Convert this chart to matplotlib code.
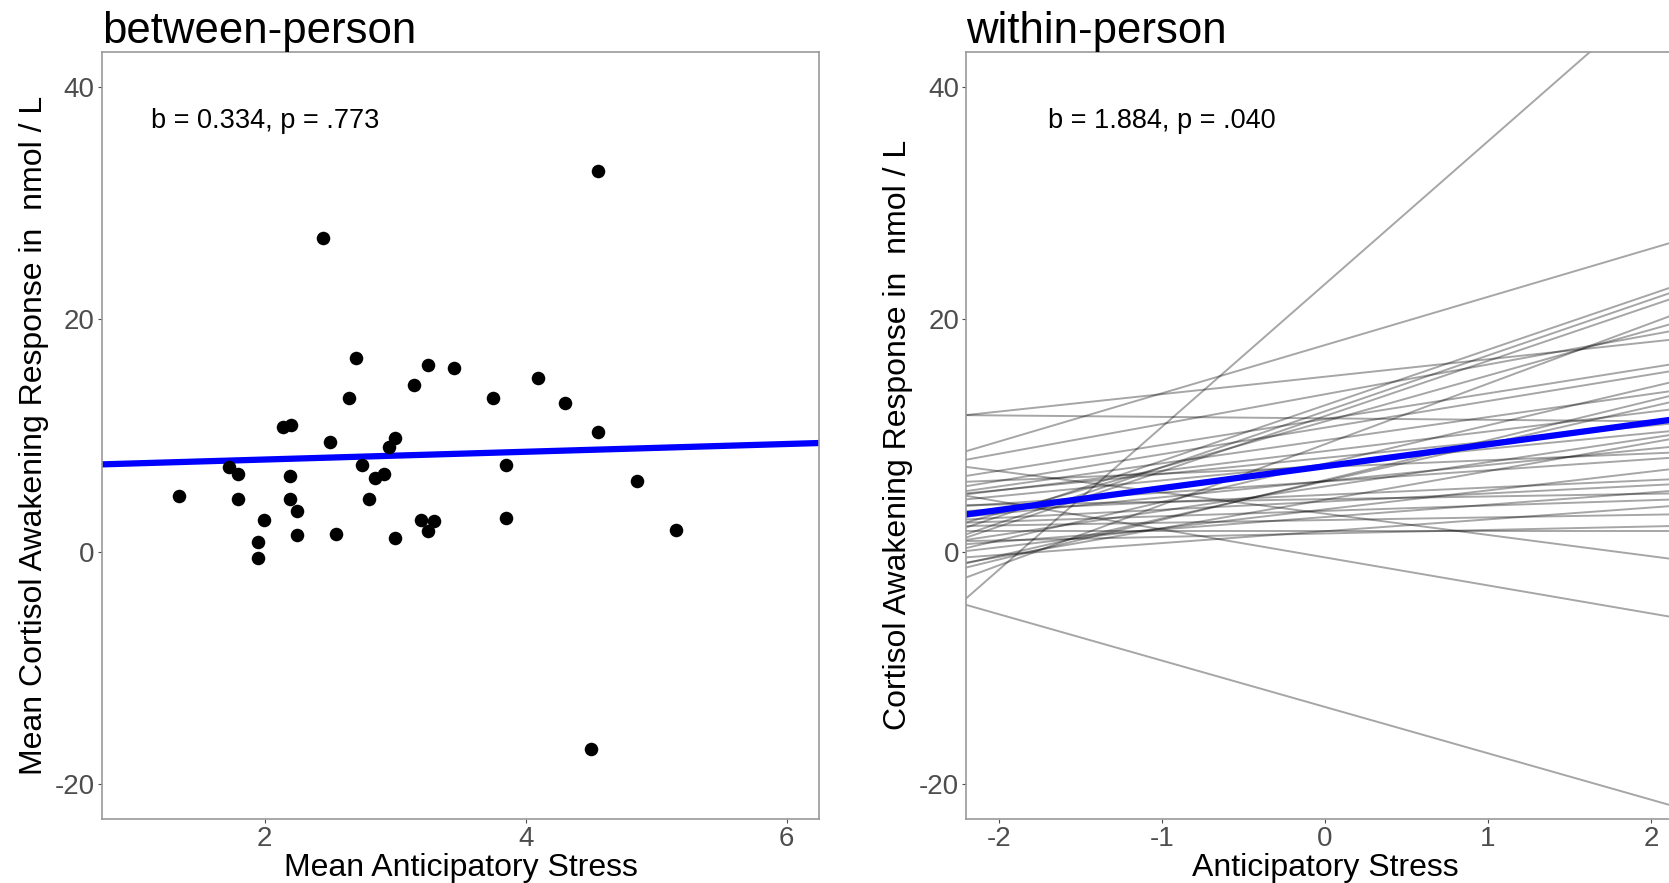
import matplotlib.pyplot as plt
import numpy as np

plt.rcParams['font.family'] = ['Liberation Sans', 'DejaVu Sans']
plt.rcParams['axes.unicode_minus'] = False

# between-person: person means
mean_stress = [1.343, 1.729, 1.795, 1.795, 1.946, 1.946, 1.997, 2.143, 2.194, 2.194,
               2.199, 2.248, 2.248, 2.449, 2.498, 2.546, 2.646, 2.697, 2.748, 2.796,
               2.845, 2.914, 2.950, 2.998, 3.001, 3.147, 3.198, 3.249, 3.249, 3.300,
               3.451, 3.749, 3.852, 3.852, 4.092, 4.301, 4.503, 4.552, 4.552, 4.853,
               5.154]
mean_car = [4.80, 7.25, 6.63, 4.51, 0.82, -0.55, 2.74, 10.71, 6.54, 4.48,
            10.85, 3.45, 1.43, 27.0, 9.40, 1.51, 13.17, 16.66, 7.43, 4.51,
            6.31, 6.69, 9.03, 1.17, 9.74, 14.31, 2.74, 16.06, 1.74, 2.66,
            15.83, 13.25, 7.48, 2.85, 14.97, 12.77, -17.0, 32.77, 10.29, 6.03,
            1.89]
between_b0, between_b1 = 7.25, 0.334

# within-person: person-specific lines (intercept at 0, slope)
person_icpt = [17.76, 15.04, 11.46, -13.36, -0.50, 3.26, 23.0, 12.58, 12.06, 11.65,
               9.23, 13.53, 11.39, 10.66, 9.58, 6.15, 8.64, 7.48, 4.46, 6.03,
               3.63, 4.88, 4.30, 2.97, 3.50, 1.75, 2.71, 1.56, 1.80,
               8.06, 6.06, 6.05, 5.60, 7.28, 4.51, 7.56, 11.19]
person_slope = [4.15, 1.50, -0.125, -3.99, -2.41, -1.83, 12.29, 4.78, 4.81, 4.75,
                5.21, 2.56, 2.22, 2.29, 1.99, 3.42, 1.69, 1.36, 2.46, 0.96,
                1.63, 0.63, 0.70, 1.06, 0.46, 1.02, 0.23, 0.30, 0.0,
                1.39, 1.39, 3.21, 2.09, 0.58, 0.23, 3.30, 3.95]
within_b0, within_b1 = 7.34, 1.884

fig = plt.figure(figsize=(16.69, 8.83), dpi=100)
ax1 = fig.add_axes([0.0609, 0.0725, 0.4300, 0.869])
ax2 = fig.add_axes([0.5788, 0.0725, 0.4300, 0.869])

tick_col = '#4D4D4D'
frame_col = '#9A9A9A'


def style(ax):
    for sp in ax.spines.values():
        sp.set_color(frame_col)
        sp.set_linewidth(1.2)
    ax.tick_params(colors=tick_col, labelsize=20, length=3, width=0.8, pad=2)
    ax.set_ylim(-23, 43)
    ax.set_yticks([-20, 0, 20, 40])


# left panel
ax1.scatter(mean_stress, mean_car, s=95, color='black', zorder=3, linewidths=0)
ax1.axline((0, between_b0), slope=between_b1, color='#0000FF', lw=4.5, zorder=2)
ax1.set_xlim(0.75, 6.25)
ax1.set_xticks([2, 4, 6])
style(ax1)
ax1.set_xlabel('Mean Anticipatory Stress', fontsize=23, labelpad=1)
ax1.set_ylabel('Mean Cortisol Awakening Response in  nmol / L', fontsize=23, labelpad=4)
ax1.set_title('between-person', loc='left', fontsize=31.5, pad=2)
ax1.text(2, 37, 'b = 0.334, p = .773', fontsize=19.5, ha='center', va='center')

# right panel
for b0, b1 in zip(person_icpt, person_slope):
    ax2.axline((0, b0), slope=b1, color='black', alpha=0.35, lw=1.4, zorder=1)
ax2.axline((0, within_b0), slope=within_b1, color='#0000FF', lw=4.5, zorder=2)
ax2.set_xlim(-2.2, 2.2)
ax2.set_xticks([-2, -1, 0, 1, 2])
style(ax2)
ax2.set_xlabel('Anticipatory Stress', fontsize=23, labelpad=1)
ax2.set_ylabel('Cortisol Awakening Response in  nmol / L', fontsize=23, labelpad=4)
ax2.set_title('within-person', loc='left', fontsize=31.5, pad=2)
ax2.text(-1, 37, 'b = 1.884, p = .040', fontsize=19.5, ha='center', va='center')

fig.savefig('out.png', dpi=100)
